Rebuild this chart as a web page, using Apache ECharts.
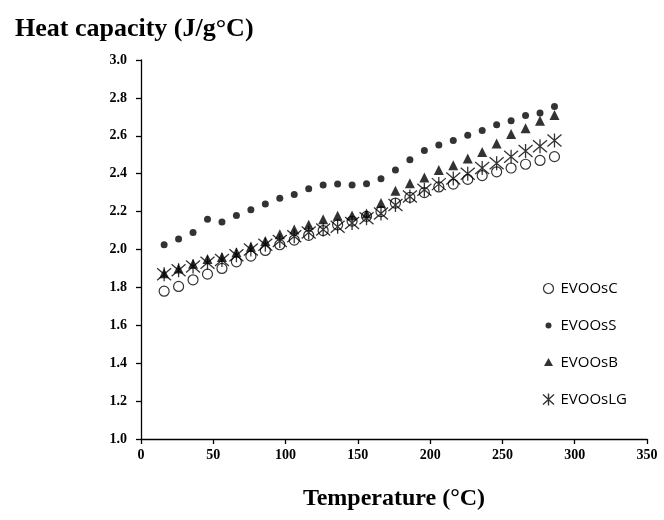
<!DOCTYPE html>
<html>
<head>
<meta charset="utf-8">
<script src="https://cdn.jsdelivr.net/npm/echarts@6/dist/echarts.min.js"></script>
<style>
    html, body { margin: 0; padding: 0; background: #fff; }
    #main { width: 664px; height: 520px; }
</style>
</head>
<body>
<div id="main"></div>
<script>
    // temperatures (°C)
    var temps = [16, 26, 36, 46, 56, 66, 76, 86, 96, 106, 116, 126, 136, 146,
        156, 166, 176, 186, 196, 206, 216, 226, 236, 246, 256, 266, 276, 286];

    var evoosC = [1.78, 1.805, 1.84, 1.87, 1.90, 1.935, 1.965, 1.995, 2.025, 2.05, 2.075, 2.10, 2.13, 2.15,
        2.175, 2.20, 2.245, 2.275, 2.30, 2.33, 2.345, 2.37, 2.39, 2.41, 2.43, 2.45, 2.47, 2.49];
    var evoosS = [2.025, 2.056, 2.09, 2.16, 2.145, 2.18, 2.21, 2.24, 2.27, 2.29, 2.32, 2.34, 2.345, 2.34,
        2.347, 2.373, 2.42, 2.473, 2.522, 2.551, 2.575, 2.603, 2.628, 2.658, 2.68, 2.707, 2.72, 2.755];
    var evoosB = [1.875, 1.90, 1.925, 1.95, 1.96, 1.985, 2.015, 2.045, 2.08, 2.105, 2.13, 2.16, 2.178, 2.18,
        2.19, 2.245, 2.31, 2.35, 2.38, 2.42, 2.445, 2.48, 2.515, 2.56, 2.61, 2.64, 2.68, 2.71];
    var evoosLG = [1.87, 1.89, 1.91, 1.93, 1.945, 1.97, 2.0, 2.025, 2.045, 2.07, 2.09, 2.105, 2.12, 2.14,
        2.165, 2.19, 2.235, 2.28, 2.315, 2.345, 2.375, 2.40, 2.43, 2.455, 2.49, 2.52, 2.545, 2.575];

    function pairs(vals) {
        var out = [];
        for (var i = 0; i < temps.length; i++) {
            out.push([temps[i], vals[i]]);
        }
        return out;
    }

    var starPath = 'path://M0,0L12,12M12,0L0,12M6,-1L6,13';
    var serifFont = '"Liberation Serif", "Times New Roman", serif';

    // legend icons padded inside a 14x14 box so they come out smaller
    var legCircle = 'path://M0,0M14,14M12,7A5,5,0,1,1,2,7A5,5,0,1,1,12,7Z';
    var legDot = 'path://M0,0M14,14M10,7A3,3,0,1,1,4,7A3,3,0,1,1,10,7Z';
    var legTri = 'path://M0,0M14,14M7,2.5L11.5,10.5L2.5,10.5Z';
    var legStar = 'path://M0,0M14,14M1.5,2L12.5,12M12.5,2L1.5,12M7,1L7,13';

    var chart = echarts.init(document.getElementById('main'), null, { renderer: 'canvas' });

    var option = {
        backgroundColor: '#fff',
        animation: false,
        title: {
            text: 'Heat capacity (J/g°C)',
            left: 10,
            top: 11,
            textStyle: { fontFamily: serifFont, fontWeight: 'bold', fontSize: 26, color: '#000' }
        },
        legend: {
            orient: 'vertical',
            left: 534,
            top: 273,
            itemGap: 16,
            itemWidth: 14,
            itemHeight: 14,
            textStyle: { fontFamily: '"Open Sans", sans-serif', fontSize: 15, color: '#000', lineHeight: 21 },
            data: [
                { name: 'EVOOsC', icon: legCircle, itemStyle: { color: '#fff', borderColor: '#000', borderWidth: 1.2 } },
                { name: 'EVOOsS', icon: legDot, itemStyle: { color: '#000' } },
                { name: 'EVOOsB', icon: legTri, itemStyle: { color: '#000' } },
                { name: 'EVOOsLG', icon: legStar, itemStyle: { color: 'none', borderColor: '#000', borderWidth: 1.4 } }
            ]
        },
        grid: { left: 141, right: 17, top: 60, bottom: 81 },
        xAxis: {
            type: 'value',
            min: 0,
            max: 350,
            interval: 50,
            name: 'Temperature (°C)',
            nameLocation: 'middle',
            nameGap: 48,
            nameTextStyle: { fontFamily: serifFont, fontWeight: 'bold', fontSize: 24, color: '#000' },
            axisLine: { lineStyle: { color: '#000', width: 1.3 } },
            axisTick: { show: true, inside: false, length: 5, lineStyle: { color: '#000', width: 1.3 } },
            axisLabel: { margin: 9, fontFamily: serifFont, fontWeight: 'bold', fontSize: 14, color: '#000' },
            splitLine: { show: false }
        },
        yAxis: {
            type: 'value',
            min: 1.0,
            max: 3.0,
            interval: 0.2,
            axisLine: { show: true, lineStyle: { color: '#000', width: 1.3 } },
            axisTick: { show: true, inside: false, length: 5, lineStyle: { color: '#000', width: 1.3 } },
            axisLabel: {
                margin: 14, fontFamily: serifFont, fontWeight: 'bold', fontSize: 14, color: '#000',
                formatter: function (v) { return v.toFixed(1); }
            },
            splitLine: { show: false }
        },
        series: [
            {
                name: 'EVOOsC', type: 'scatter', data: pairs(evoosC),
                symbol: 'circle', symbolSize: 10,
                itemStyle: { color: 'rgba(0,0,0,0)', borderColor: '#000', borderWidth: 1.2 }
            },
            {
                name: 'EVOOsS', type: 'scatter', data: pairs(evoosS),
                symbol: 'circle', symbolSize: 7,
                itemStyle: { color: '#000' }
            },
            {
                name: 'EVOOsB', type: 'scatter', data: pairs(evoosB),
                symbol: 'triangle', symbolSize: 10,
                itemStyle: { color: '#000' }
            },
            {
                name: 'EVOOsLG', type: 'scatter', data: pairs(evoosLG),
                symbol: starPath, symbolSize: 14,
                itemStyle: { color: 'none', borderColor: '#000', borderWidth: 1.3 }
            }
        ]
    };

    chart.setOption(option);
</script>
</body>
</html>
